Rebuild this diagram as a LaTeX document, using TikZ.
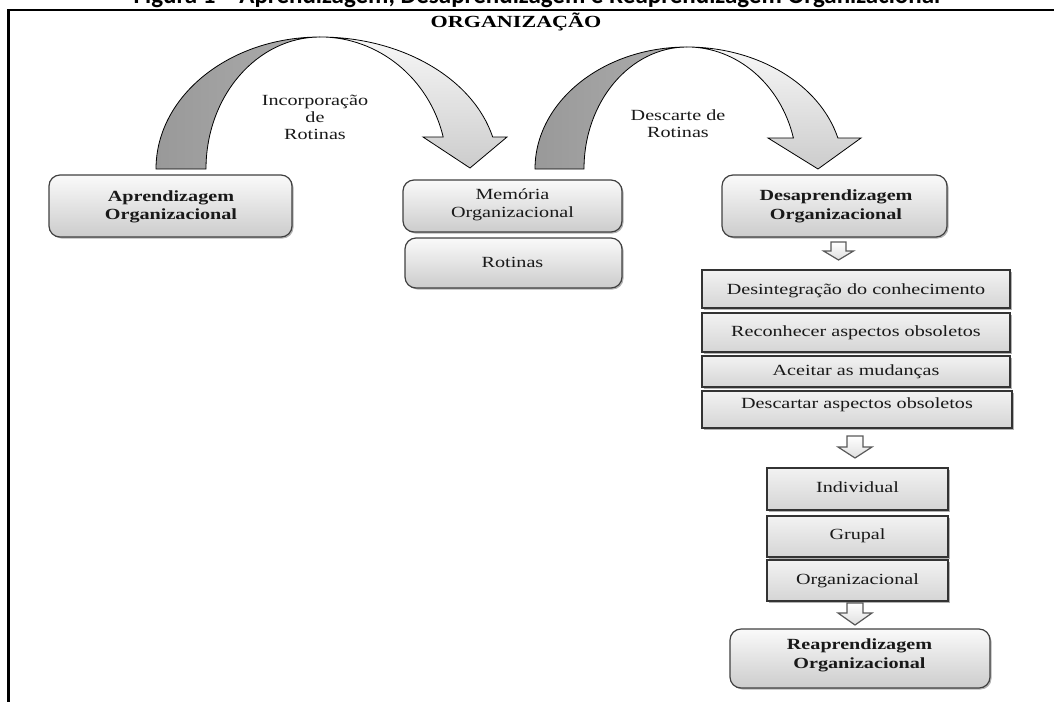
\documentclass[tikz,border=0pt]{standalone}
\usepackage{fontspec}
\setmainfont{Liberation Serif}
\newfontfamily\titlefont{Carlito}
\usetikzlibrary{shadows}
\newcommand{\hs}[1]{\scalebox{1.3}[1]{#1}}
\newcommand{\twol}[2]{\hs{\begin{tabular}{@{}c@{}}#1\\#2\end{tabular}}}
\begin{document}
\begin{tikzpicture}[x=1pt,y=-1pt,
  shd/.style={drop shadow={shadow xshift=1.5pt,shadow yshift=-1.5pt,opacity=0.3,fill=black}},
  rbox/.style={draw=black!75,line width=1.2pt,rounded corners=11pt,top color=gray!4,bottom color=gray!40,shd,inner sep=0pt},
  sbox/.style={draw=black!80,line width=1.2pt,top color=gray!10,bottom color=gray!33,shd,inner sep=0pt},
  txt/.style={font=\fontsize{15.5}{18.5}\selectfont,inner sep=0pt,text=black!90},
  btxt/.style={txt,font=\bfseries\fontsize{15.5}{18.5}\selectfont},
  one/.style={txt,text height=11pt,text depth=3.5pt},
  lbl/.style={txt,font=\fontsize{15.5}{17}\selectfont},
  darkband/.style={draw=black,line width=0.8pt,left color=black!40,right color=black!32},
  lightband/.style={draw=black,line width=0.8pt,top color=gray!6,bottom color=gray!40},
  smallarr/.style={draw=black!65,line width=1.2pt,top color=white,bottom color=gray!25,line join=miter}
]
\useasboundingbox (0,0) rectangle (1054,702);

% title (cut off at top, as in the reference)
\node[font=\titlefont\bfseries\fontsize{25}{30}\selectfont,anchor=base,inner sep=0pt] (title) at (537,3)
  {Figura 1 – Aprendizagem, Desaprendizagem e Reaprendizagem Organizacional};

% frame
\draw[line width=2.5pt] (1054,10) -- (8.5,10) -- (8.5,702);

\node[font=\bfseries\fontsize{17}{20}\selectfont,anchor=base,inner sep=0pt] (org) at (516,27.5) {\hs{ORGANIZAÇÃO}};

% big curved arrow 1
\draw[darkband] (156,169) arc[start angle=180,end angle=270,x radius=164,y radius=132]
  arc[start angle=270,end angle=180,x radius=114,y radius=132] -- cycle;
\draw[lightband] (320,37) arc[start angle=270,end angle=346,x radius=178,y radius=132]
  -- (507,137) -- (470,168) -- (423,137) -- (443.2,137)
  arc[start angle=346,end angle=270,x radius=127,y radius=132] -- cycle;

% big curved arrow 2
\draw[darkband] (535,169) arc[start angle=180,end angle=270,x radius=152,y radius=122]
  arc[start angle=270,end angle=180,x radius=103,y radius=122] -- cycle;
\draw[lightband] (687,47) arc[start angle=270,end angle=345.3,x radius=156,y radius=122]
  -- (861,138) -- (818,169) -- (768,138) -- (793.4,138)
  arc[start angle=345.3,end angle=270,x radius=110,y radius=122] -- cycle;

\node[lbl] (l1) at (315,119) {\hs{\begin{tabular}{@{}c@{}}Incorporação\\de\\Rotinas\end{tabular}}};
\node[lbl] (l2) at (678,126) {\twol{Descarte de}{Rotinas}};

% rounded boxes
\node[rbox,minimum width=243pt,minimum height=62pt] (A) at (170.5,206) {};
\node[btxt] (tA) at (171,207) {\twol{Aprendizagem}{Organizacional}};
\node[rbox,minimum width=219pt,minimum height=52pt] (M) at (512.5,206) {};
\node[txt] (tM) at (512.5,205) {\twol{Memória}{Organizacional}};
\node[rbox,minimum width=217pt,minimum height=50pt] (R) at (513.5,263) {};
\node[one] (tR) at (512.5,264) {\hs{Rotinas}};
\node[rbox,minimum width=225pt,minimum height=62pt] (D) at (834.5,206) {};
\node[btxt] (tD) at (836,206.5) {\twol{Desaprendizagem}{Organizacional}};

% small arrow 1
\draw[smallarr] (831,242) -- (846,242) -- (846,251) -- (853.5,251) -- (838.5,260) -- (823.5,251) -- (831,251) -- cycle;

% rectangles
\node[sbox,minimum width=308pt,minimum height=38pt] (r1) at (856,289) {};
\node[one] (t1) at (856,291) {\hs{Desintegração do conhecimento}};
\node[sbox,minimum width=308pt,minimum height=39pt] (r2) at (856,332.5) {};
\node[one] (t2) at (856,332.5) {\hs{Reconhecer aspectos obsoletos}};
\node[sbox,minimum width=308pt,minimum height=31pt] (r3) at (856,371.5) {};
\node[one] (t3) at (856,371.5) {\hs{Aceitar as mudanças}};
\node[sbox,minimum width=310pt,minimum height=37pt] (r4) at (857,409.5) {};
\node[one] (t4) at (857,404.5) {\hs{Descartar aspectos obsoletos}};

% small arrow 2
\draw[smallarr] (847,436) -- (863,436) -- (863,447) -- (872,447) -- (855,458) -- (838,447) -- (847,447) -- cycle;

\node[sbox,minimum width=181pt,minimum height=42pt] (r5) at (857.5,489) {};
\node[one] (t5) at (857.5,488.5) {\hs{Individual}};
\node[sbox,minimum width=181pt,minimum height=41pt] (r6) at (857.5,536.5) {};
\node[one] (t6) at (857.5,536) {\hs{Grupal}};
\node[sbox,minimum width=181pt,minimum height=41pt] (r7) at (857.5,580.5) {};
\node[one] (t7) at (857.5,580.5) {\hs{Organizacional}};

% small arrow 3
\draw[smallarr] (847,603) -- (863,603) -- (863,613) -- (872,613) -- (855,625) -- (838,613) -- (847,613) -- cycle;

\node[rbox,minimum width=260pt,minimum height=59pt] (E) at (860,658.5) {};
\node[btxt] (tE) at (859.5,655.5) {\twol{Reaprendizagem}{Organizacional}};
\end{tikzpicture}
\end{document}
